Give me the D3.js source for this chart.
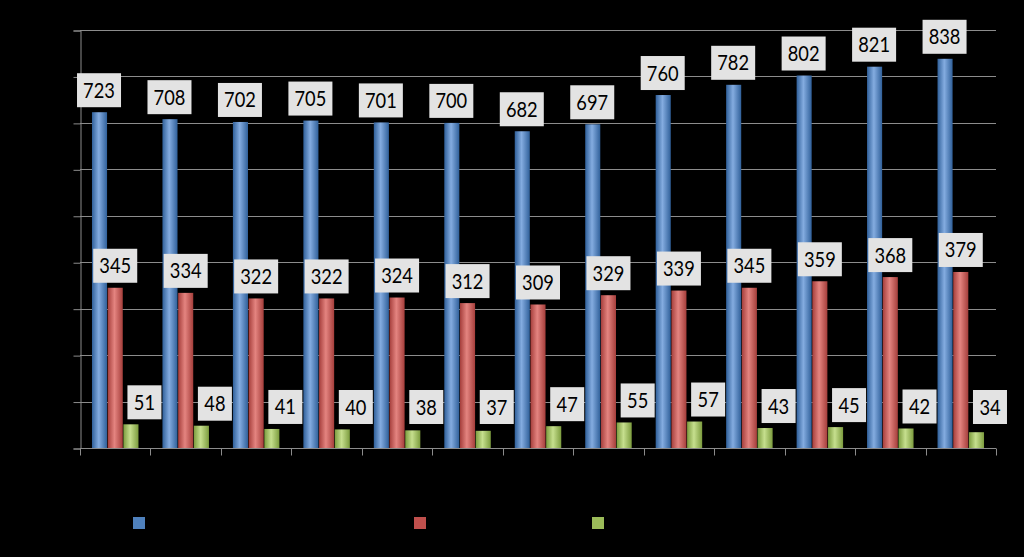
<!DOCTYPE html>
<html><head><meta charset="utf-8">
<script src="https://cdn.jsdelivr.net/npm/d3@7"></script>
<style>html,body{margin:0;padding:0;background:#000;}svg{display:block;}</style>
</head><body>
<script>
const categories = ["1","2","3","4","5","6","7","8","9","10","11","12","13"];
const seriesNames = ["A","B","C"];
const seriesA = [723,708,702,705,701,700,682,697,760,782,802,821,838];
const seriesB = [345,334,322,322,324,312,309,329,339,345,359,368,379];
const seriesC = [51,48,41,40,38,37,47,55,57,43,45,42,34];
const yTicks = [0,100,200,300,400,500,600,700,800,900];

(function(){
const W = 1024, H = 557;
const pl = 80, pr = 996, pt = 30, pb = 448;
const colors = {A:["#30609a","#84ace0"], B:["#a53e3b","#e48480"], C:["#7c9c3e","#c6df8e"]};
const solid = {A:"#4f81bd", B:"#c0504d", C:"#9bbb59"};
const labelDx = {A:-0.5, B:0, C:13.5};

const svg = d3.select("body").append("svg").attr("width",W).attr("height",H);
svg.append("rect").attr("width",W).attr("height",H).attr("fill","#000");
const defs = svg.append("defs");
seriesNames.forEach(s=>{
  const g = defs.append("linearGradient").attr("id","g"+s).attr("x1","0").attr("x2","1").attr("y1","0").attr("y2","0");
  g.append("stop").attr("offset","0").attr("stop-color",colors[s][0]);
  g.append("stop").attr("offset","0.45").attr("stop-color",colors[s][1]);
  g.append("stop").attr("offset","1").attr("stop-color",colors[s][0]);
});

const y = d3.scaleLinear().domain([0,900]).range([pb,pt]);
const x0 = d3.scaleBand().domain(categories).range([pl,pr]);
const bw = x0.bandwidth();
const x1 = d3.scaleBand().domain(seriesNames).range([bw*0.17, bw*0.83]).paddingInner(0.04);

// gridlines
svg.append("g").selectAll("line").data(yTicks.filter(d=>d>0)).join("line")
  .attr("x1",pl).attr("x2",pr).attr("y1",d=>Math.round(y(d))+0.5).attr("y2",d=>Math.round(y(d))+0.5)
  .attr("stroke","#8c8c8c").attr("stroke-width",1);

// y axis
const yAxis = d3.axisLeft(y).tickValues(yTicks).tickSize(7).tickFormat("");
const ya = svg.append("g").attr("transform",`translate(${pl+0.5},0.5)`).call(yAxis);
ya.selectAll("line,path").attr("stroke","#8c8c8c");

const data = {A:seriesA, B:seriesB, C:seriesC};
const bars = [];
categories.forEach((c,i)=>seriesNames.forEach(s=>bars.push({c,s,v:data[s][i]})));

svg.append("g").selectAll("rect").data(bars).join("rect")
  .attr("x",d=>x0(d.c)+x1(d.s)).attr("width",x1.bandwidth())
  .attr("y",d=>y(d.v)).attr("height",d=>pb-y(d.v))
  .attr("fill",d=>"url(#g"+d.s+")");

// x axis
const xa = svg.append("g").attr("transform",`translate(0,${pb+0.5})`);
xa.append("line").attr("x1",pl).attr("x2",pr).attr("stroke","#8c8c8c");
xa.selectAll("line.t").data(categories.concat(["end"])).join("line").attr("class","t")
  .attr("x1",(d,i)=>Math.round(pl+i*bw)+0.5).attr("x2",(d,i)=>Math.round(pl+i*bw)+0.5).attr("y1",0).attr("y2",7)
  .attr("stroke","#8c8c8c");

// labels
const lg = svg.append("g");
bars.forEach(d=>{
  const cx = x0(d.c)+x1(d.s)+x1.bandwidth()/2+labelDx[d.s];
  const t = String(d.v);
  const w = t.length===3 ? 44 : 34, h = 34;
  let yb = y(d.v)-5;
  if (d.s==="C") yb = Math.min(yb, 424);
  lg.append("rect").attr("x",cx-w/2).attr("y",yb-h).attr("width",w).attr("height",h).attr("fill","#e3e3e3");
  lg.append("text").attr("x",cx).attr("y",yb-h/2+7.5).attr("text-anchor","middle")
    .attr("font-family","Lato, 'Open Sans', sans-serif").attr("font-size",21).attr("fill","#000")
    .attr("textLength",t.length*10.6).attr("lengthAdjust","spacingAndGlyphs").text(t);
});

// legend squares
const legX = [133,414,592];
svg.append("g").selectAll("rect").data(seriesNames).join("rect")
  .attr("x",(d,i)=>legX[i]).attr("y",517).attr("width",12).attr("height",12)
  .attr("fill",d=>solid[d]);
})();
</script>
</body></html>
